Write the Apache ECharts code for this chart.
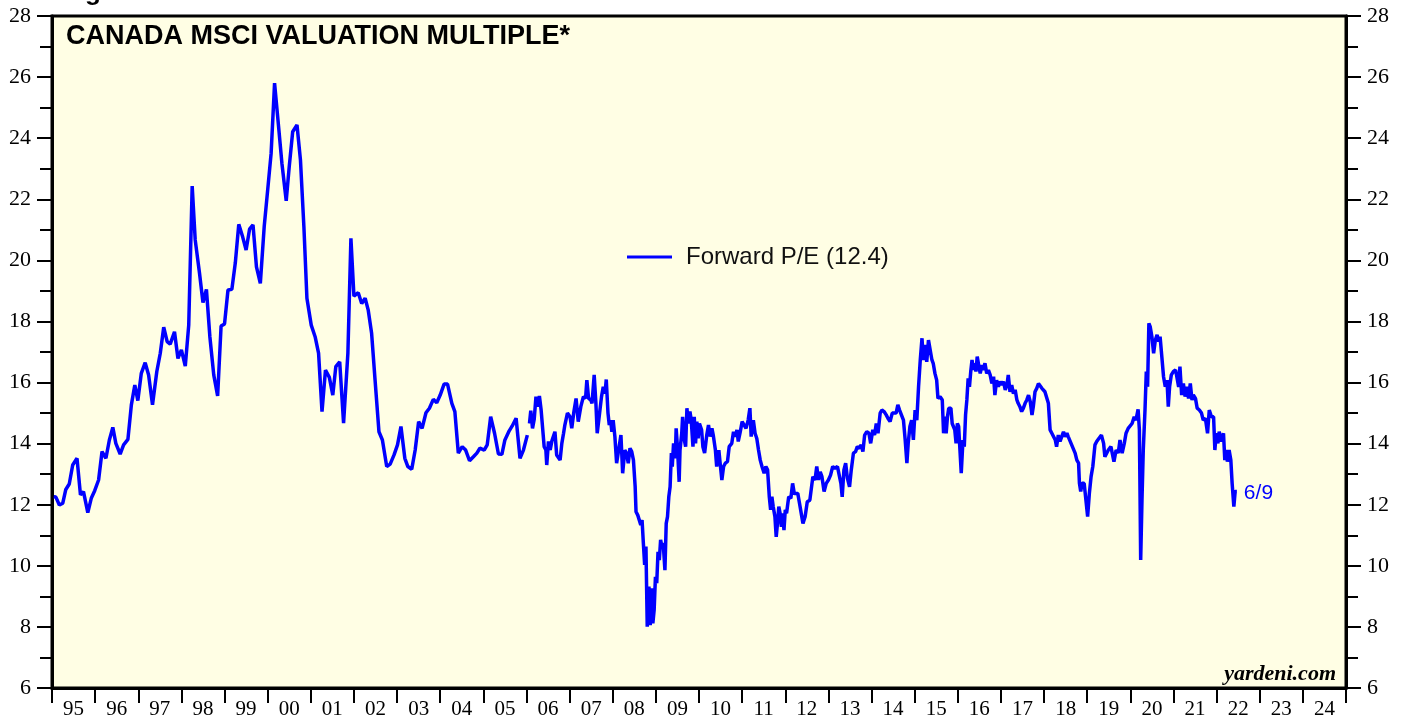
<!DOCTYPE html>
<html>
<head>
<meta charset="utf-8">
<script src="https://cdn.jsdelivr.net/npm/echarts@6/dist/echarts.min.js"></script>
<style>
html,body{margin:0;padding:0;background:#ffffff;}
#c{width:1407px;height:719px;}
</style>
</head>
<body>
<div id="c"></div>
<script>
// ---- tick labels ----
const yearLabels = ['95','96','97','98','99','00','01','02','03','04','05','06','07','08','09','10','11','12','13','14','15','16','17','18','19','20','21','22','23','24'];

// ---- monthly forward P/E, 1995 - early 2006 (decimal years) ----
const monthlyDates = [
  1995.04,1995.09,1995.17,1995.25,1995.32,1995.40,1995.48,1995.58,1995.66,1995.73,1995.83,1995.91,1995.99,
  1996.08,1996.16,1996.25,1996.33,1996.41,1996.48,1996.58,1996.66,1996.76,1996.84,1996.92,1996.99,
  1997.07,1997.16,1997.24,1997.33,1997.43,1997.51,1997.59,1997.67,1997.74,1997.84,1997.92,
  1998.00,1998.09,1998.17,1998.25,1998.32,1998.42,1998.50,1998.58,1998.66,1998.75,1998.84,1998.92,
  1999.00,1999.08,1999.17,1999.25,1999.33,1999.42,1999.50,1999.58,1999.66,1999.74,1999.83,1999.92,
  2000.00,2000.08,2000.16,2000.26,2000.33,2000.43,2000.50,2000.58,2000.68,2000.76,2000.84,2000.91,
  2001.01,2001.10,2001.18,2001.26,2001.34,2001.43,2001.51,2001.58,2001.67,2001.76,2001.86,2001.93,
  2002.00,2002.10,2002.18,2002.26,2002.33,2002.41,2002.49,2002.58,2002.66,2002.76,2002.84,2002.93,
  2003.01,2003.09,2003.18,2003.25,2003.34,2003.42,2003.50,2003.58,2003.67,2003.75,2003.84,2003.92,
  2004.00,2004.09,2004.17,2004.27,2004.34,2004.42,2004.51,2004.59,2004.68,2004.77,2004.85,2004.92,
  2005.02,2005.09,2005.17,2005.26,2005.35,2005.43,2005.50,2005.60,2005.67,2005.76,2005.85,2005.93,
  2006.02
];
const monthlyValues = [
  12.26,12.25,11.99,12.05,12.5,12.68,13.3,13.52,12.32,12.43,11.74,12.21,12.46,
  12.81,13.74,13.52,14.12,14.53,14.01,13.66,13.96,14.14,15.27,15.92,15.41,
  16.3,16.65,16.25,15.27,16.36,16.96,17.81,17.34,17.26,17.66,16.79,
  17.07,16.54,17.88,22.43,20.67,19.58,18.62,19.05,17.5,16.25,15.56,17.85,
  17.92,19.03,19.05,19.92,21.18,20.77,20.34,21.02,21.16,19.79,19.25,21.11,
  22.3,23.5,25.8,24.27,23.18,21.95,23.07,24.21,24.43,23.29,21.1,18.76,
  17.88,17.5,16.96,15.05,16.41,16.17,15.59,16.52,16.68,14.67,16.96,20.72,
  18.83,18.94,18.59,18.76,18.38,17.61,16.08,14.39,14.12,13.25,13.33,13.63,
  13.96,14.56,13.52,13.25,13.16,13.79,14.72,14.5,15.01,15.16,15.45,15.34,
  15.59,15.95,15.95,15.32,15.05,13.69,13.9,13.79,13.44,13.57,13.69,13.85,
  13.79,13.96,14.88,14.34,13.66,13.65,14.12,14.42,14.58,14.83,13.52,13.79,
  14.28
];

// ---- weekly forward P/E, 2006 - 6/9/2022 (decimal years) ----
const weeklyDates = [
  2006.07,2006.10,2006.14,2006.18,2006.22,2006.26,2006.30,2006.34,2006.38,2006.41,2006.45,2006.47,2006.51,2006.55,2006.59,2006.62,2006.66,2006.70,2006.74,2006.78,2006.82,2006.86,2006.89,2006.95,
  2007.01,2007.05,2007.10,2007.15,2007.20,2007.26,2007.32,2007.37,2007.40,2007.44,2007.49,2007.52,2007.57,2007.61,2007.64,2007.69,2007.74,2007.78,2007.82,2007.85,2007.89,2007.92,2007.95,2007.98,
  2008.01,2008.05,2008.09,2008.13,2008.19,2008.23,2008.28,2008.32,2008.36,2008.40,2008.44,2008.48,2008.52,2008.54,2008.58,2008.62,2008.65,2008.68,2008.71,2008.74,2008.77,2008.80,2008.84,2008.87,2008.90,2008.93,2008.96,2008.99,
  2009.02,2009.05,2009.08,2009.11,2009.14,2009.17,2009.21,2009.24,2009.27,2009.30,2009.33,2009.36,2009.38,2009.41,2009.45,2009.47,2009.50,2009.54,2009.56,2009.60,2009.62,2009.66,2009.69,2009.72,2009.75,2009.79,2009.82,2009.86,2009.89,2009.92,2009.95,2009.98,
  2010.01,2010.06,2010.09,2010.13,2010.18,2010.22,2010.26,2010.30,2010.33,2010.38,2010.41,2010.46,2010.49,2010.53,2010.57,2010.61,2010.66,2010.70,2010.76,2010.80,2010.84,2010.88,2010.91,2010.95,
  2011.00,2011.04,2011.09,2011.14,2011.18,2011.21,2011.26,2011.30,2011.34,2011.38,2011.42,2011.46,2011.51,2011.55,2011.59,2011.63,2011.66,2011.69,2011.72,2011.76,2011.79,2011.82,2011.85,2011.88,2011.91,2011.94,2011.97,
  2012.00,2012.03,2012.08,2012.13,2012.17,2012.21,2012.25,2012.29,2012.33,2012.41,2012.46,2012.51,2012.57,2012.64,2012.69,2012.73,2012.77,2012.81,2012.85,2012.90,2012.95,
  2013.00,2013.05,2013.10,2013.15,2013.21,2013.25,2013.29,2013.32,2013.36,2013.40,2013.44,2013.49,2013.53,2013.58,2013.63,2013.67,2013.72,2013.76,2013.80,2013.84,2013.89,2013.94,2013.98,
  2014.03,2014.07,2014.11,2014.15,2014.20,2014.24,2014.29,2014.34,2014.38,2014.43,2014.48,2014.52,2014.57,2014.61,2014.65,2014.69,2014.74,2014.78,2014.82,2014.85,2014.89,2014.93,2014.97,
  2015.01,2015.05,2015.09,2015.13,2015.17,2015.20,2015.24,2015.28,2015.32,2015.36,2015.40,2015.43,2015.47,2015.51,2015.54,2015.59,2015.64,2015.67,2015.70,2015.73,2015.76,2015.79,2015.84,2015.87,2015.90,2015.93,2015.96,2015.99,
  2016.02,2016.05,2016.08,2016.12,2016.15,2016.18,2016.21,2016.24,2016.27,2016.30,2016.33,2016.36,2016.39,2016.42,2016.45,2016.49,2016.52,2016.56,2016.59,2016.63,2016.67,2016.71,2016.75,2016.79,2016.83,2016.86,2016.90,2016.94,2016.98,
  2017.02,2017.06,2017.10,2017.14,2017.17,2017.21,2017.25,2017.29,2017.33,2017.37,2017.40,2017.44,2017.48,2017.52,2017.56,2017.60,2017.64,2017.68,2017.72,2017.75,2017.79,2017.83,2017.87,2017.91,2017.95,2017.98,
  2018.02,2018.06,2018.10,2018.14,2018.18,2018.22,2018.26,2018.29,2018.33,2018.37,2018.41,2018.45,2018.49,2018.53,2018.56,2018.60,2018.64,2018.68,2018.72,2018.76,2018.80,2018.82,2018.85,2018.88,2018.93,2018.97,
  2019.01,2019.05,2019.09,2019.13,2019.18,2019.22,2019.27,2019.33,2019.38,2019.41,2019.45,2019.49,2019.55,2019.59,2019.62,2019.67,2019.72,2019.76,2019.81,2019.86,2019.90,2019.95,2019.99,
  2020.04,2020.09,2020.13,2020.18,2020.21,2020.24,2020.27,2020.30,2020.34,2020.37,2020.40,2020.43,2020.46,2020.50,2020.54,2020.58,2020.62,2020.66,2020.69,2020.73,2020.77,2020.81,2020.85,2020.88,2020.91,2020.95,
  2021.00,2021.05,2021.09,2021.12,2021.15,2021.19,2021.23,2021.27,2021.31,2021.35,2021.39,2021.43,2021.46,2021.51,2021.55,2021.60,2021.65,2021.69,2021.74,2021.79,2021.83,2021.88,2021.93,2021.96,2021.99,
  2022.03,2022.06,2022.11,2022.16,2022.19,2022.22,2022.25,2022.29,2022.33,2022.36,2022.38,2022.40,2022.43,2022.47
];
const weeklyValues = [
  14.66,15.08,14.5,14.8,15.54,15.21,15.56,15.1,15.05,13.9,13.79,13.3,14.07,13.79,14.09,14.03,14.39,13.63,13.57,13.46,14.01,14.34,14.61,15.0,
  14.88,14.5,15.05,15.48,14.72,15.21,15.54,15.48,16.08,15.48,15.43,15.32,16.25,15.32,14.34,14.94,15.54,15.86,15.64,16.1,15.0,14.61,14.77,14.39,
  14.77,14.23,13.36,13.36,14.28,13.03,13.79,13.69,13.36,13.85,13.74,13.46,12.59,11.77,11.66,11.72,11.34,11.5,10.74,10.03,10.63,8.01,9.32,8.06,9.26,8.12,8.55,9.64,
  9.43,10.46,10.19,10.85,10.63,10.74,9.86,11.39,11.61,12.26,12.59,13.69,13.25,14.01,13.52,14.5,13.9,12.75,13.79,14.34,14.88,14.12,13.9,15.16,14.66,15.05,14.77,13.9,14.88,14.01,14.72,14.17,
  14.66,14.45,13.9,13.69,14.28,14.61,14.23,14.5,14.28,13.79,13.25,13.79,13.36,12.81,13.25,13.36,13.41,13.9,14.01,14.39,14.23,14.45,14.07,14.34,
  14.72,14.66,14.5,14.77,15.16,14.23,14.77,14.34,14.17,13.79,13.46,13.25,13.03,13.25,13.14,12.26,11.83,12.26,11.94,11.61,10.95,11.39,11.94,11.72,11.28,11.72,11.17,
  11.83,11.72,12.26,12.21,12.7,12.37,12.43,12.37,12.05,11.39,11.61,12.1,12.15,12.92,12.81,13.25,12.81,13.08,12.92,12.43,12.7,
  12.81,12.97,13.25,13.19,13.25,13.19,12.7,12.26,13.14,13.36,12.87,12.59,13.14,13.69,13.74,13.9,13.85,13.96,13.74,14.28,14.39,14.34,14.01,
  14.45,14.28,14.66,14.34,15.0,15.1,15.05,14.94,14.83,14.72,15.0,15.05,15.0,15.27,15.1,15.16,14.77,14.12,13.36,14.01,14.56,14.77,14.12,
  15.1,14.77,15.86,16.74,17.45,16.74,17.23,16.68,17.39,17.45,16.74,16.63,16.3,16.08,15.48,15.54,15.43,14.34,14.88,14.34,14.88,15.16,15.16,14.66,14.66,14.45,14.01,14.66,
  14.56,13.79,13.03,14.12,13.9,14.94,15.43,16.14,15.86,16.36,16.74,16.41,16.63,16.36,16.85,16.52,16.3,16.57,16.41,16.63,16.3,16.41,16.25,15.97,16.19,15.59,16.08,15.86,16.03,
  15.92,16.03,15.76,15.92,16.25,15.7,15.92,15.64,15.76,15.43,15.32,15.21,15.05,15.16,15.32,15.43,15.59,15.37,14.94,15.21,15.7,15.81,15.97,15.92,15.81,15.86,
  15.7,15.76,15.32,14.45,14.34,14.28,14.12,13.9,14.28,14.07,14.23,14.39,14.23,14.34,14.23,14.23,13.96,13.9,13.69,13.46,13.36,12.7,12.43,12.7,12.7,12.65,
  11.61,12.37,12.92,13.25,13.96,14.07,14.17,14.28,14.01,13.57,13.52,13.79,13.9,13.85,13.41,13.79,13.69,14.12,13.69,14.01,14.34,14.5,14.56,
  14.66,14.88,14.77,15.12,14.45,10.19,12.15,13.79,15.1,16.36,15.86,17.94,17.83,17.5,16.96,17.39,17.56,17.34,17.5,16.85,16.19,15.86,16.08,15.21,15.86,16.25,
  16.36,16.41,16.47,15.86,16.52,15.59,15.97,15.54,15.86,15.48,15.97,15.43,15.59,15.48,15.16,15.1,15.0,14.77,14.83,14.34,15.1,14.88,14.88,13.79,14.34,
  14.01,14.39,14.07,14.34,13.46,13.79,13.41,13.79,13.46,12.7,12.76,11.94,12.43,12.43
];

const seriesName = 'Forward P/E (12.4)';
const lastLabel = '6/9';

const SERIF = '"Liberation Serif","Times New Roman",serif';
const SANS = '"Liberation Sans",Arial,Helvetica,sans-serif';
const BLUE = '#0000FF';

const monthly = monthlyDates.map((d, i) => [d, monthlyValues[i]]);
const weekly = weeklyDates.map((d, i) => [d, weeklyValues[i]]);

function yAxisCfg(pos) {
  return {
    type: 'value', position: pos, min: 6, max: 28, interval: 2,
    axisLine: { show: true, onZero: false, lineStyle: { color: '#000', width: 3 } },
    axisTick: { show: true, length: 15, lineStyle: { color: '#000', width: 2 } },
    minorTick: { show: true, splitNumber: 2, length: 12, lineStyle: { color: '#000', width: 2 } },
    splitLine: { show: false }, minorSplitLine: { show: false },
    axisLabel: { color: '#000', fontFamily: SERIF, fontSize: 22, margin: 21, showMinLabel: true, showMaxLabel: true }
  };
}

const chart = echarts.init(document.getElementById('c'), null, { renderer: 'canvas' });
chart.setOption({
  animation: false,
  backgroundColor: '#ffffff',
  grid: { left: 52, right: 61, top: 16, bottom: 31, outerBoundsMode: 'none', containLabel: false,
          show: true, backgroundColor: '#FFFEE4', borderColor: '#000', borderWidth: 3 },
  xAxis: [
    { type: 'value', min: 1995, max: 2025, show: false },
    { type: 'category', data: yearLabels, position: 'bottom', boundaryGap: true,
      axisLine: { show: true, lineStyle: { color: '#000', width: 3 } },
      axisTick: { show: true, length: 15, interval: 0, lineStyle: { color: '#000', width: 2 } },
      splitLine: { show: false },
      axisLabel: { interval: 0, color: '#000', fontFamily: SERIF, fontSize: 21, margin: 11 } }
  ],
  yAxis: [yAxisCfg('left'), yAxisCfg('right')],
  legend: {
    data: [{ name: seriesName, icon: 'rect' }], left: 627, top: 245, padding: 0,
    itemWidth: 45, itemHeight: 3, itemGap: 0,
    itemStyle: { color: BLUE, borderWidth: 0 },
    textStyle: { fontFamily: SANS, fontSize: 24, color: '#111', padding: [0, 0, 0, 9] }
  },
  graphic: [
    { type: 'text', x: 66, y: 37, style: { text: 'CANADA MSCI VALUATION MULTIPLE*', font: 'bold 27px "Liberation Sans", Arial, sans-serif', fill: '#000', textAlign: 'left', textVerticalAlign: 'middle' } },
    { type: 'text', x: 1336, y: 674, style: { text: 'yardeni.com', font: 'italic bold 22px "Liberation Serif", serif', fill: '#000', textAlign: 'right', textVerticalAlign: 'middle' } },
    { type: 'text', x: 62, y: -7, style: { text: 'Figure 1.', font: 'bold 26px "Liberation Sans", Arial, sans-serif', fill: '#000', textAlign: 'left', textVerticalAlign: 'middle' } }
  ],
  series: [
    { name: seriesName, type: 'line', xAxisIndex: 0, yAxisIndex: 0, data: monthly,
      showSymbol: false, symbol: 'none', lineStyle: { color: BLUE, width: 3.5 }, itemStyle: { color: BLUE } },
    { name: seriesName, type: 'line', xAxisIndex: 0, yAxisIndex: 0, data: weekly,
      showSymbol: false, symbol: 'none', lineStyle: { color: BLUE, width: 3.5 }, itemStyle: { color: BLUE },
      endLabel: { show: true, formatter: lastLabel, color: BLUE, fontFamily: SANS, fontSize: 21, distance: 7, offset: [0, 2] } }
  ]
});
</script>
</body>
</html>
